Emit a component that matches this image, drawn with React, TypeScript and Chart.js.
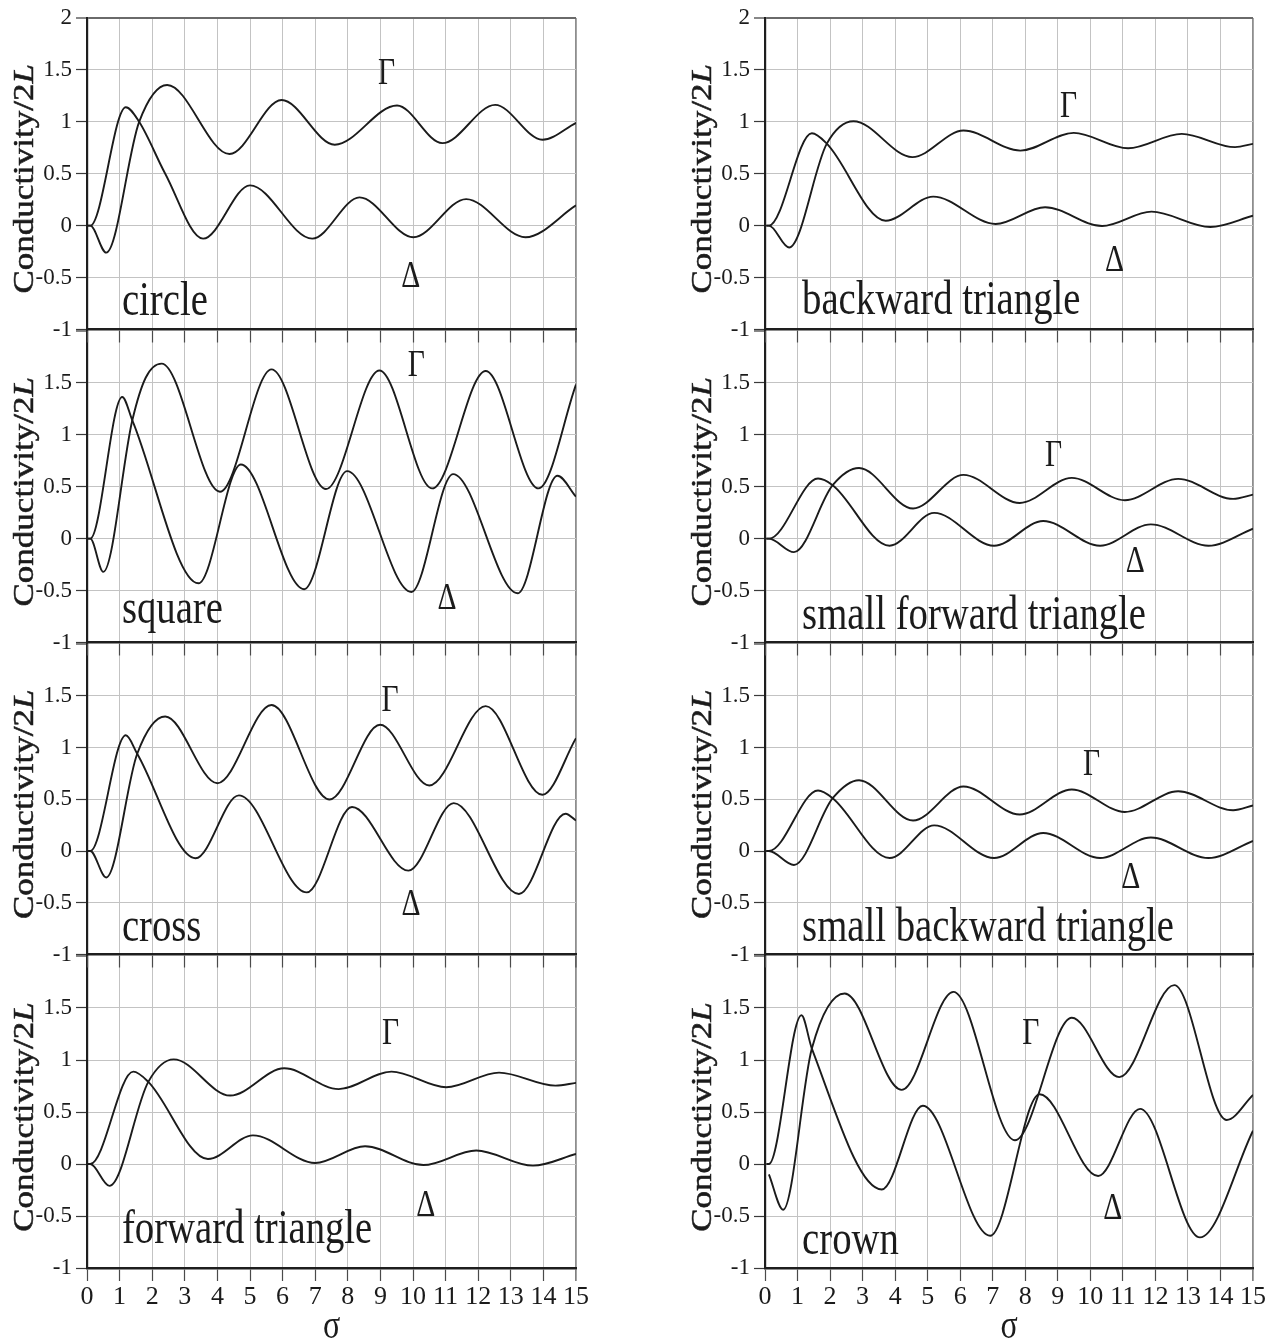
import React, { useEffect, useRef } from 'react';
import { Chart, registerables } from 'chart.js';

Chart.register(...registerables);

type Pair = [number, number];

// ---------------- DATA (σ, value) ----------------
const circleGamma: Pair[] = [[0.02, 0], [0.1, 0], [0.59, -0.26], [1.6, 1.0], [2.46, 1.355], [4.37, 0.69], [5.97, 1.21], [7.6, 0.78], [9.51, 1.157], [10.9, 0.795], [12.52, 1.163], [13.97, 0.827], [15, 0.99]];
const circleDelta: Pair[] = [[0.02, 0], [0.1, 0], [1.19, 1.14], [1.6, 1.0], [2.4, 0.5], [3.56, -0.125], [5.0, 0.388], [6.91, -0.125], [8.36, 0.272], [10.01, -0.112], [11.63, 0.256], [13.45, -0.112], [15, 0.195]];

const squareGamma: Pair[] = [[0.02, 0], [0.1, 0], [0.5, -0.32], [1.39, 1.14], [1.8, 1.55], [2.29, 1.686], [4.08, 0.452], [5.66, 1.63], [7.33, 0.478], [8.97, 1.62], [10.59, 0.484], [12.23, 1.615], [13.85, 0.484], [15, 1.484]];
const squareDelta: Pair[] = [[0.02, 0], [0.1, 0], [1.08, 1.365], [1.39, 1.14], [3.42, -0.43], [4.72, 0.715], [6.66, -0.487], [7.98, 0.65], [9.95, -0.513], [11.23, 0.622], [13.21, -0.526], [14.43, 0.606], [15, 0.404]];

const crossGamma: Pair[] = [[0.02, 0], [0.1, 0], [0.59, -0.256], [1.54, 0.94], [2.4, 1.3], [4.0, 0.655], [5.66, 1.41], [7.44, 0.498], [8.99, 1.22], [10.5, 0.633], [12.23, 1.4], [13.97, 0.543], [15, 1.09]];
const crossDelta: Pair[] = [[0.02, 0], [0.1, 0], [1.19, 1.118], [1.54, 0.94], [3.33, -0.07], [4.66, 0.537], [6.74, -0.4], [8.13, 0.425], [9.86, -0.19], [11.25, 0.463], [13.25, -0.415], [14.68, 0.36], [15, 0.294]];

const forwardGamma: Pair[] = [[0.02, 0], [0.1, 0], [0.69, -0.21], [1.88, 0.79], [2.66, 1.006], [4.39, 0.658], [6.05, 0.92], [7.72, 0.72], [9.34, 0.888], [11.02, 0.738], [12.64, 0.879], [14.37, 0.754], [15, 0.78]];
const forwardDelta: Pair[] = [[0.02, 0], [0.1, 0], [1.42, 0.888], [1.88, 0.79], [3.71, 0.048], [5.09, 0.275], [7.0, 0.01], [8.53, 0.17], [10.32, -0.01], [11.94, 0.13], [13.68, -0.016], [15, 0.096]];

const backwardGamma: Pair[] = [[0.04, 0], [0.12, 0], [0.74, -0.21], [1.9, 0.79], [2.72, 1.006], [4.53, 0.66], [6.1, 0.916], [7.85, 0.723], [9.49, 0.894], [11.16, 0.746], [12.81, 0.884], [14.45, 0.756], [15, 0.788]];
const backwardDelta: Pair[] = [[0.04, 0], [0.12, 0], [1.44, 0.89], [1.9, 0.79], [3.71, 0.048], [5.17, 0.28], [7.09, 0.016], [8.61, 0.177], [10.36, -0.003], [11.88, 0.135], [13.69, -0.013], [15, 0.096]];

const smallForwardGamma: Pair[] = [[0.04, 0], [0.12, 0], [0.89, -0.13], [2.08, 0.515], [2.89, 0.68], [4.55, 0.29], [6.1, 0.614], [7.83, 0.344], [9.43, 0.585], [11.06, 0.37], [12.7, 0.576], [14.39, 0.383], [15, 0.424]];
const smallForwardDelta: Pair[] = [[0.04, 0], [0.12, 0], [1.63, 0.579], [2.08, 0.515], [3.83, -0.068], [5.2, 0.248], [7.04, -0.068], [8.55, 0.17], [10.3, -0.068], [11.86, 0.138], [13.63, -0.068], [15, 0.096]];

const smallBackwardGamma: Pair[] = [[0.04, 0], [0.12, 0], [0.89, -0.135], [2.08, 0.51], [2.89, 0.684], [4.55, 0.294], [6.1, 0.623], [7.83, 0.352], [9.43, 0.594], [11.06, 0.377], [12.7, 0.577], [14.39, 0.394], [15, 0.44]];
const smallBackwardDelta: Pair[] = [[0.04, 0], [0.12, 0], [1.63, 0.584], [2.08, 0.51], [3.83, -0.068], [5.2, 0.248], [7.04, -0.068], [8.55, 0.174], [10.3, -0.068], [11.86, 0.13], [13.63, -0.068], [15, 0.097]];

const crownGamma: Pair[] = [[0.12, -0.1], [0.56, -0.44], [1.44, 1.11], [2.45, 1.64], [4.2, 0.713], [5.79, 1.655], [7.68, 0.229], [9.43, 1.406], [10.89, 0.835], [12.58, 1.72], [14.19, 0.423], [15, 0.665]];
const crownDelta: Pair[] = [[0.04, 0], [0.12, 0], [1.12, 1.43], [1.44, 1.11], [3.59, -0.245], [4.85, 0.56], [6.92, -0.69], [8.44, 0.67], [10.24, -0.116], [11.53, 0.53], [13.37, -0.706], [15, 0.32]];

const panelNames = ['circle', 'square', 'cross', 'forward triangle', 'backward triangle', 'small forward triangle', 'small backward triangle', 'crown'];
const xTickLabels = ['0', '1', '2', '3', '4', '5', '6', '7', '8', '9', '10', '11', '12', '13', '14', '15'];
const yTickValues = [-1, -0.5, 0, 0.5, 1, 1.5, 2];
const yTickLabels = ['-1', '-0.5', '0', '0.5', '1', '1.5', '2'];
const yTitleMain = 'Conductivity/2';
const yTitleItalic = 'L';
const xTitle = 'σ';
const gammaLabel = 'Γ';
const deltaLabel = 'Δ';

// ---------------- LAYOUT (label placements in data units) ----------------
type Place = { g: Pair; d: Pair; n: Pair };
const placements: Place[] = [
  { g: [9.19, 1.46], d: [9.93, -0.5], n: [1.07, -0.86] },
  { g: [10.1, 1.66], d: [11.04, -0.58], n: [1.07, -0.81] },
  { g: [9.3, 1.45], d: [9.94, -0.52], n: [1.07, -0.87] },
  { g: [9.31, 1.25], d: [10.39, -0.41], n: [1.07, -0.76] },
  { g: [9.33, 1.14], d: [10.74, -0.34], n: [1.14, -0.85] },
  { g: [8.87, 0.79], d: [11.38, -0.225], n: [1.14, -0.87] },
  { g: [10.04, 0.83], d: [11.24, -0.26], n: [1.14, -0.865] },
  { g: [8.17, 1.245], d: [10.69, -0.44], n: [1.14, -0.87] },
];
const seriesGamma = [circleGamma, squareGamma, crossGamma, forwardGamma, backwardGamma, smallForwardGamma, smallBackwardGamma, crownGamma];
const seriesDelta = [circleDelta, squareDelta, crossDelta, forwardDelta, backwardDelta, smallForwardDelta, smallBackwardDelta, crownDelta];

const COL_LEFT = [0, 677];
const AXIS_L = [87, 765];
const AXIS_R = [576, 1253];
const ROW_TOP = [18, 331, 644, 956];
const ROW_BOTTOM = [331, 644, 956, 1268];
const CANVAS_W = 600;
const PAD_TOP = 16;

const INK = '#1b1b1b';
const GRID = '#c3c3c3';
const FONT = '"Liberation Serif", "Times New Roman", Times, serif';

function textScaled(ctx: CanvasRenderingContext2D, s: string, x: number, y: number, size: number, sx: number, align: CanvasTextAlign, base: CanvasTextBaseline) {
  ctx.save();
  ctx.translate(x, y);
  ctx.scale(sx, 1);
  ctx.font = `${size}px ${FONT}`;
  ctx.fillStyle = INK;
  ctx.textAlign = align;
  ctx.textBaseline = base;
  ctx.fillText(s, 0, 0);
  ctx.restore();
}

function makeOverlay(idx: number, isBottom: boolean) {
  return {
    id: 'overlay' + idx,
    afterDraw(chart: any) {
      const ctx: CanvasRenderingContext2D = chart.ctx;
      const ca = chart.chartArea;
      const xs = chart.scales.x;
      const ys = chart.scales.y;
      const pl = placements[idx];
      textScaled(ctx, gammaLabel, xs.getPixelForValue(pl.g[0]), ys.getPixelForValue(pl.g[1]), 37, 0.8, 'center', 'middle');
      textScaled(ctx, deltaLabel, xs.getPixelForValue(pl.d[0]), ys.getPixelForValue(pl.d[1]), 37, 0.8, 'center', 'middle');
      textScaled(ctx, panelNames[idx], xs.getPixelForValue(pl.n[0]), ys.getPixelForValue(pl.n[1]), 49, 0.79, 'left', 'alphabetic');

      // rotated y-axis title with italic L
      ctx.save();
      const cy = (ca.top + ca.bottom) / 2 + 5;
      ctx.translate(ca.left - 54, cy);
      ctx.rotate(-Math.PI / 2);
      ctx.scale(1, 0.82);
      const normal = `35px ${FONT}`;
      const italic = `italic 35px ${FONT}`;
      ctx.font = normal;
      const wA = ctx.measureText(yTitleMain).width;
      ctx.font = italic;
      const wL = ctx.measureText(yTitleItalic).width;
      const start = -(wA + wL) / 2;
      ctx.fillStyle = INK;
      ctx.strokeStyle = INK;
      ctx.lineWidth = 0.6;
      ctx.textAlign = 'left';
      ctx.textBaseline = 'alphabetic';
      ctx.font = normal;
      ctx.fillText(yTitleMain, start, 0);
      ctx.strokeText(yTitleMain, start, 0);
      ctx.font = italic;
      ctx.fillText(yTitleItalic, start + wA, 0);
      ctx.strokeText(yTitleItalic, start + wA, 0);
      ctx.restore();

      if (isBottom) {
        textScaled(ctx, xTitle, (ca.left + ca.right) / 2, ca.bottom + 70, 40, 0.8, 'center', 'alphabetic');
      }
    },
  };
}

function buildConfig(idx: number, col: number, row: number) {
  const isTop = row === 0;
  const isBottom = row === 3;
  const yWidth = AXIS_L[col] - COL_LEFT[col];
  const padRight = CANVAS_W - (AXIS_R[col] - COL_LEFT[col]);
  const toPts = (p: Pair[]) => p.map(([x, y]) => ({ x, y }));
  const ds = (p: Pair[]) => ({
    data: toPts(p),
    borderColor: INK,
    borderWidth: 1.9,
    pointRadius: 0,
    fill: false,
    cubicInterpolationMode: 'monotone' as const,
  });
  return {
    type: 'line' as const,
    data: { datasets: [ds(seriesGamma[idx]), ds(seriesDelta[idx])] },
    options: {
      animation: false as const,
      responsive: false,
      maintainAspectRatio: false,
      events: [],
      layout: { padding: { top: PAD_TOP, right: padRight, left: 0, bottom: isBottom ? 30 : 0 } },
      plugins: { legend: { display: false }, tooltip: { enabled: false }, title: { display: false } },
      scales: {
        x: {
          type: 'linear' as const,
          min: 0,
          max: 15,
          ticks: {
            display: isBottom,
            stepSize: 1,
            autoSkip: false,
            maxRotation: 0,
            padding: 2,
            color: INK,
            font: { family: FONT, size: 26, lineHeight: 1.1 },
            callback: (v: number) => xTickLabels[Math.round(v)] ?? '',
          },
          grid: {
            color: (c: any) => (c.tick && c.tick.value === 15 ? '#8e8e8e' : GRID),
            lineWidth: (c: any) => (c.tick && c.tick.value === 15 ? 1.8 : 1),
            drawTicks: true,
            tickLength: 13,
            tickColor: '#4a4a4a',
            tickWidth: 1.2,
          },
          border: { color: '#1e1e1e', width: 2.6 },
          afterFit: (s: any) => { s.height = isBottom ? 44 : 14; },
        },
        y: {
          type: 'linear' as const,
          min: -1,
          max: 2,
          afterBuildTicks: (s: any) => { s.ticks = yTickValues.map((v) => ({ value: v })); },
          ticks: {
            padding: 4,
            color: INK,
            font: { family: FONT, size: 23, lineHeight: 1 },
            callback: (v: number) => {
              if (!isTop && v === 2) return '';
              const i = yTickValues.indexOf(v);
              return i >= 0 ? yTickLabels[i] : '';
            },
          },
          grid: {
            color: (c: any) => {
              const v = c.tick ? c.tick.value : 0;
              if (v === 2) return isTop ? '#6a6a6a' : 'rgba(0,0,0,0)';
              return GRID;
            },
            lineWidth: (c: any) => (c.tick && c.tick.value === 2 ? 2 : 1),
            drawTicks: true,
            tickLength: 11,
            tickColor: '#3a3a3a',
            tickWidth: 1.2,
          },
          border: { color: '#1e1e1e', width: 2.2 },
          afterFit: (s: any) => { s.width = yWidth; },
        },
      },
    },
    plugins: [makeOverlay(idx, isBottom)],
  };
}

function Panel({ idx, col, row }: { idx: number; col: number; row: number }) {
  const ref = useRef<HTMLCanvasElement>(null);
  const isBottom = row === 3;
  const panelH = ROW_BOTTOM[row] - ROW_TOP[row];
  const h = PAD_TOP + panelH + (isBottom ? 44 + 30 : 14);
  const top = ROW_TOP[row] - PAD_TOP;
  useEffect(() => {
    const chart = new Chart(ref.current as HTMLCanvasElement, buildConfig(idx, col, row) as any);
    return () => chart.destroy();
  }, [idx, col, row]);
  return (
    <canvas
      ref={ref}
      width={CANVAS_W}
      height={h}
      style={{ position: 'absolute', left: COL_LEFT[col], top, width: CANVAS_W, height: h, display: 'block' }}
    />
  );
}

export default function App() {
  // render lower rows first so that upper panels' bottom axes sit on top
  const order: { idx: number; col: number; row: number }[] = [];
  for (let row = 3; row >= 0; row--) {
    for (let col = 0; col < 2; col++) {
      order.push({ idx: col * 4 + row, col, row });
    }
  }
  return (
    <div style={{ position: 'absolute', left: 0, top: 0, width: 1276, height: 1342, background: '#fff', overflow: 'hidden' }}>
      {order.map((p) => (
        <Panel key={p.idx} idx={p.idx} col={p.col} row={p.row} />
      ))}
    </div>
  );
}
